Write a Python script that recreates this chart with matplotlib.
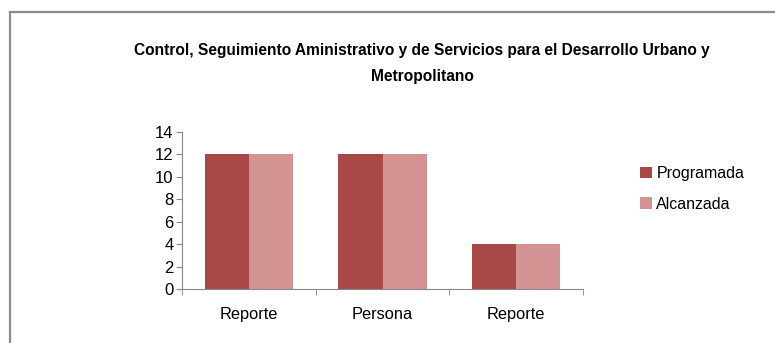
import matplotlib
matplotlib.use("Agg")
import matplotlib.pyplot as plt
import numpy as np
from matplotlib.patches import Rectangle

categorias = ["Reporte", "Persona", "Reporte"]
programada = [12, 12, 4]
alcanzada = [12, 12, 4]
series = ["Programada", "Alcanzada"]
titulo = ("Control, Seguimiento Aministrativo y de Servicios para el Desarrollo Urbano y\n"
          "Metropolitano")

plt.rcParams['font.family'] = ['Liberation Sans', 'DejaVu Sans']

fig = plt.figure(figsize=(7.75, 3.43), dpi=100)
ax = fig.add_axes([0.2348, 0.1574, 0.5175, 0.4578])

# marco gris del area del grafico
fig.patches.append(Rectangle((9.5 / 775, -0.1), 1.2, 1.1 - 12.5 / 343, transform=fig.transFigure,
                             fill=False, edgecolor="#8c8c8c", linewidth=1.6, zorder=0))

x = np.arange(len(categorias))
w = 0.33
ax.bar(x - w / 2, programada, w, color="#a84948", label=series[0])
ax.bar(x + w / 2, alcanzada, w, color="#d39393", label=series[1])

ax.set_xlim(-0.5, len(categorias) - 0.5)
ax.set_ylim(0, 14)
ax.set_yticks(range(0, 15, 2))
ax.set_xticks(x)
ax.set_xticklabels(categorias)
ax.set_xticks(np.arange(-0.5, len(categorias), 1), minor=True)
ax.tick_params(axis="x", which="major", length=0, pad=13, labelsize=11.8)
ax.tick_params(axis="x", which="minor", length=4, color="#888888")
ax.tick_params(axis="y", length=4, color="#888888", labelsize=12, pad=2)

for s in ["top", "right"]:
    ax.spines[s].set_visible(False)
for s in ["left", "bottom"]:
    ax.spines[s].set_color("#888888")

fig.text(422 / 775, 1 - 63.5 / 343, titulo, ha="center", va="center", fontsize=11.2,
         fontweight="bold", linespacing=1.85)

ax.legend(loc="upper left", bbox_to_anchor=(634 / 775, 1 - 160 / 343), bbox_transform=fig.transFigure,
          frameon=False, fontsize=11.5, handlelength=0.7, handleheight=0.7,
          handletextpad=0.3, labelspacing=0.95, borderaxespad=0)

fig.savefig("out.png", dpi=100)
